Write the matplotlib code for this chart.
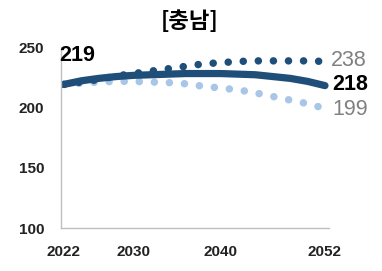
import matplotlib
matplotlib.use("Agg")
import matplotlib.pyplot as plt

years = list(range(2022, 2053, 2))
high = [219, 221, 223, 226, 228, 230, 232, 234, 236, 237, 238, 238.5, 238.5, 238.5, 238.5, 238]
mid = [219, 222, 224, 225.5, 226.5, 227, 227.5, 228, 228, 228, 227.5, 227, 225.5, 224, 221.5, 218]
low = [219, 220, 221, 221.5, 221.5, 221, 220.5, 219.5, 217.5, 216, 214.5, 212, 209, 206, 203, 199]
xticks = [2022, 2030, 2040, 2052]
yticks = [100, 150, 200, 250]
title = "[충남]"
start_label = "219"
end_labels = ["238", "218", "199"]

plt.rcParams['font.family'] = ['Liberation Sans', 'DejaVu Sans']
fig = plt.figure(figsize=(3.82, 2.71), dpi=100)
ax = fig.add_axes([61/382, 43/271, 268/382, 181/271])

dot = (0, (0.01, 2.0))
ax.plot(years, low, color='#a9c6e6', lw=5.4, linestyle=dot, dash_capstyle='round')
ax.plot(years, high, color='#1f4e79', lw=5.4, linestyle=dot, dash_capstyle='round')
ax.plot(years, mid, color='#1f4e79', lw=5.2, solid_capstyle='round')

ax.set_xlim(2021.66, 2052.46)
ax.set_ylim(100, 250)
ax.set_xticks(xticks)
ax.set_yticks(yticks)
ax.tick_params(length=0, labelsize=11)
ax.tick_params(axis='x', pad=12)
ax.tick_params(axis='y', pad=12)
for lab in ax.get_xticklabels() + ax.get_yticklabels():
    lab.set_fontweight('bold')
    lab.set_color('#222222')
for s in ['top', 'right']:
    ax.spines[s].set_visible(False)
for s in ['left', 'bottom']:
    ax.spines[s].set_color('#bfbfbf')
    ax.spines[s].set_linewidth(1)

ax.annotate(start_label, xy=(2021.66, 243), xytext=(-1, 0), textcoords='offset points',
            fontsize=15.5, fontweight='bold', color='black', ha='left', va='center',
            annotation_clip=False)
ax.annotate(end_labels[0], xy=(years[-1], high[-1]), xytext=(4, 1), textcoords='offset points',
            fontsize=15.5, color='#808080', ha='left', va='center', annotation_clip=False)
ax.annotate(end_labels[1], xy=(years[-1], mid[-1]), xytext=(5, 1), textcoords='offset points',
            fontsize=15.5, fontweight='bold', color='black', ha='left', va='center', annotation_clip=False)
ax.annotate(end_labels[2], xy=(years[-1], low[-1]), xytext=(5, -1), textcoords='offset points',
            fontsize=15.5, color='#808080', ha='left', va='center', annotation_clip=False)

fig.text(190/382, 1 - 21/271, title, ha='center', va='center', fontsize=16, fontweight='bold',
         family=['Noto Sans CJK KR', 'DejaVu Sans'])

fig.savefig('out.png', dpi=100)
